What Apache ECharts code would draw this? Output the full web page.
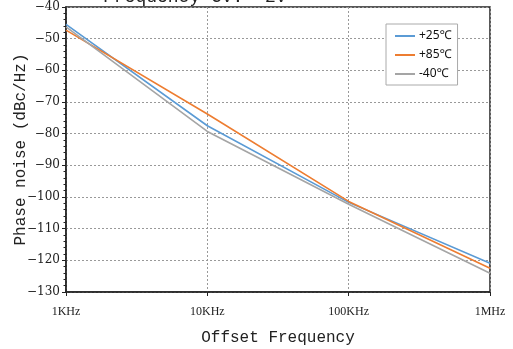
<!DOCTYPE html>
<html>
<head>
<meta charset="utf-8">
<script src="https://cdn.jsdelivr.net/npm/echarts@6/dist/echarts.min.js"></script>
<style>html,body{margin:0;padding:0;background:#fff}#c{width:513px;height:349px}</style>
</head>
<body>
<div id="c"></div>
<script>
// Data
var freqs = [1000, 10000, 100000, 1000000];
var xTickLabels = {1000: '1KHz', 10000: '10KHz', 100000: '100KHz', 1000000: '1MHz'};
var seriesNames = ['+25\u2103', '+85\u2103', '-40\u2103'];
var noise25 = [-45.5, -77.5, -101.7, -120.9];
var noise85 = [-47.3, -73.8, -101.4, -122.5];
var noiseM40 = [-46.3, -79.3, -102.3, -124.1];
var colors = ['#5B9BD5', '#ED7D31', '#A5A5A5'];

function pairs(xs, ys) { return xs.map(function (x, i) { return [x, ys[i]]; }); }

var chart = echarts.init(document.getElementById('c'), null, {renderer: 'canvas'});
var allData = [noise25, noise85, noiseM40];
chart.setOption({
  animation: false,
  backgroundColor: '#fff',
  title: {
    text: 'Frequency CV: +2V',
    left: 103, top: -12, padding: 0,
    textStyle: {fontFamily: 'Liberation Mono', fontSize: 18, fontWeight: 'normal', color: '#222'}
  },
  legend: {
    orient: 'vertical',
    left: 386, top: 24,
    padding: [6, 6, 5, 9],
    itemGap: 7,
    itemWidth: 20, itemHeight: 2,
    icon: 'rect',
    backgroundColor: '#fff',
    borderColor: '#aaa', borderWidth: 1, borderRadius: 0,
    textStyle: {fontFamily: 'Noto Sans', fontSize: 12, color: '#111', padding: [0, 0, 0, -1]},
    data: seriesNames
  },
  grid: {left: 66, right: 23, top: 7, bottom: 57, containLabel: false, outerBoundsMode: 'none',
         show: true, borderColor: '#222', borderWidth: 1.5},
  xAxis: {
    type: 'log', logBase: 10, min: 1000, max: 1000000,
    name: 'Offset Frequency', nameLocation: 'middle', nameGap: 38, nameMoveOverlap: false,
    nameTextStyle: {fontFamily: 'Liberation Mono', fontSize: 16, color: '#222'},
    axisLine: {lineStyle: {color: '#222', width: 1.5}},
    axisTick: {show: true, length: 4, lineStyle: {color: '#222'}},
    minorTick: {show: false},
    axisLabel: {fontFamily: 'Liberation Serif', fontSize: 12, color: '#222', margin: 14,
      formatter: function (v) { return xTickLabels[Math.round(v)] || ''; }},
    splitLine: {show: true, lineStyle: {color: '#999', type: [2, 2], width: 1}}
  },
  yAxis: {
    type: 'value', min: -130, max: -40, interval: 10,
    name: 'Phase noise (dBc/Hz)', nameLocation: 'middle', nameGap: 37, nameMoveOverlap: false,
    nameTextStyle: {fontFamily: 'Liberation Mono', fontSize: 16, color: '#222'},
    axisLine: {show: true, lineStyle: {color: '#222', width: 1.5}},
    axisTick: {show: true, length: 4, lineStyle: {color: '#222'}},
    minorTick: {show: true, splitNumber: 5, length: 2.5, lineStyle: {color: '#222'}},
    axisLabel: {fontFamily: 'DejaVu Serif', fontSize: 12, color: '#222', margin: 6,
      formatter: function (v) { return String(v).replace('-', '\u2212'); }},
    splitLine: {show: true, lineStyle: {color: '#999', type: [2, 2], width: 1}}
  },
  series: seriesNames.map(function (n, i) {
    return {
      name: n, type: 'line', symbol: 'none', smooth: false,
      data: pairs(freqs, allData[i]),
      lineStyle: {color: colors[i], width: 1.6},
      itemStyle: {color: colors[i]}
    };
  })
});
</script>
</body>
</html>
